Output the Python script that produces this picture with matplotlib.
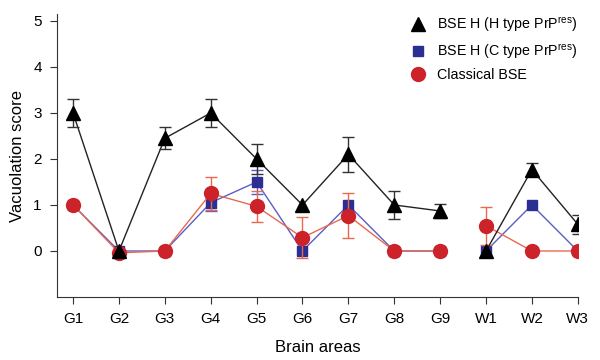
import numpy as np
import matplotlib
matplotlib.use("Agg")
import matplotlib.pyplot as plt

plt.rcParams['font.family'] = ['Liberation Sans', 'DejaVu Sans']

areas = ["G1", "G2", "G3", "G4", "G5", "G6", "G7", "G8", "G9", "W1", "W2", "W3"]

h_type = [3.0, 0.0, 2.45, 3.0, 2.0, 1.0, 2.1, 1.0, 0.87, 0.0, 1.77, 0.58]
h_err = [0.3, 0.0, 0.24, 0.3, 0.33, 0.0, 0.38, 0.31, 0.16, 0.0, 0.15, 0.2]

c_type = [1.0, 0.0, 0.0, 1.05, 1.5, 0.0, 1.0, 0.0, 0.0, 0.0, 1.0, 0.0]
c_err = [0.0, 0.0, 0.0, 0.18, 0.27, 0.0, 0.0, 0.0, 0.0, 0.0, 0.0, 0.0]

classical = [1.0, -0.04, 0.0, 1.25, 0.97, 0.29, 0.77, 0.0, 0.0, 0.55, 0.0, 0.0]
cl_err = [0.0, 0.0, 0.0, 0.36, 0.34, 0.44, 0.48, 0.0, 0.0, 0.41, 0.0, 0.0]

series = [
    ("BSE H (C type PrP$^{\\mathregular{res}}$)", c_type, c_err, "s", 7, "#2b2f91", "#5a5ec4", "#5a5ec4", 2),
    ("Classical BSE", classical, cl_err, "o", 10, "#cc2229", "#e8694f", "#e8694f", 3),
    ("BSE H (H type PrP$^{\\mathregular{res}}$)", h_type, h_err, "^", 9.5, "black", "#222222", "#333333", 4),
]

x = np.arange(len(areas))
split = 9  # lines break between G9 and W1

fig = plt.figure(figsize=(6, 3.6), dpi=100)
ax = fig.add_axes([0.095, 0.175, 0.868, 0.786])

handles = {}
for label, vals, err, mk, ms, mcol, lcol, ecol, z in series:
    vals = np.array(vals)
    err = np.array(err)
    for sl in (slice(0, split), slice(split, None)):
        ax.plot(x[sl], vals[sl], color=lcol, lw=1.0, zorder=z)
    has = err > 0
    ax.errorbar(x[has], vals[has], yerr=err[has], fmt="none", ecolor=ecol,
                elinewidth=1.0, capsize=4, capthick=1.0, zorder=z)
    h, = ax.plot(x, vals, ls="none", marker=mk, ms=ms, color=mcol,
                 markeredgecolor=mcol, zorder=z + 0.5)
    handles[label] = h

order = ["BSE H (H type PrP$^{\\mathregular{res}}$)",
         "BSE H (C type PrP$^{\\mathregular{res}}$)", "Classical BSE"]
ax.legend([handles[k] for k in order], order, loc="upper left",
          bbox_to_anchor=(0.647, 1.04), frameon=False, fontsize=10.3,
          handletextpad=0.6, labelspacing=0.5, handlelength=1.5)

ax.set_xlim(-0.35, 11)
ax.set_ylim(-1, 5.15)
ax.set_xticks(x)
ax.set_xticklabels(areas)
ax.set_yticks([0, 1, 2, 3, 4, 5])
ax.spines["top"].set_visible(False)
ax.spines["right"].set_visible(False)
ax.spines["left"].set_color("#333333")
ax.spines["bottom"].set_color("#333333")
ax.tick_params(labelsize=11, length=5, color="#333333", pad=6)
ax.set_xlabel("Brain areas", fontsize=12, labelpad=10)
ax.set_ylabel("Vacuolation score", fontsize=12, labelpad=6)

fig.savefig("out.png", dpi=100)
